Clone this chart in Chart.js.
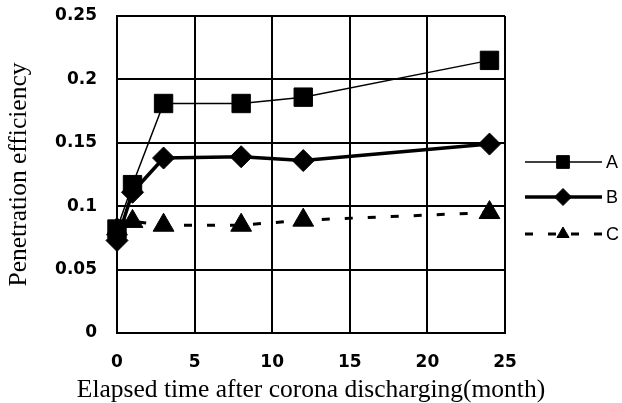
<!DOCTYPE html>
<html>
<head>
<meta charset="utf-8">
<script src="https://cdn.jsdelivr.net/npm/chart.js@4/dist/chart.umd.min.js"></script>
<style>
  html, body { margin: 0; padding: 0; background: #fff; }
  canvas { display: block; }
</style>
</head>
<body>
<canvas id="chart" width="622" height="403"></canvas>
<script>
// data
const months = [0, 1, 3, 8, 12, 24];
const seriesA = [0.082, 0.117, 0.181, 0.181, 0.186, 0.215];
const seriesB = [0.073, 0.111, 0.138, 0.139, 0.136, 0.149];
const seriesC = [0.082, 0.088, 0.085, 0.085, 0.089, 0.095];
const seriesNames = ["A", "B", "C"];
const xTickLabels = ["0", "5", "10", "15", "20", "25"];
const yTickLabels = ["0", "0.05", "0.1", "0.15", "0.2", "0.25"];
const xTitle = "Elapsed time after corona discharging(month)";
const yTitle = "Penetration efficiency";

const toPoints = (values) => values.map((v, i) => ({ x: months[i], y: v }));

const titleFont = { family: "'Liberation Serif', 'Times New Roman', serif", size: 25.5 };
const tickFont = { family: "'DejaVu Sans', sans-serif", size: 17, weight: "bold" };

// legend on the right (line sample + marker + name) and the x title,
// which chart.js would squeeze to the axis width
const legendRows = [162, 197, 234];
const legendMarkerRadius = [9, 8.5, 7];

const extraText = {
  id: "extraText",
  afterDraw(chart) {
    const ctx = chart.ctx;
    const area = chart.chartArea;
    chart.data.datasets.forEach((ds, i) => {
      const y = legendRows[i];
      ctx.save();
      ctx.strokeStyle = "#000";
      ctx.fillStyle = "#000";
      ctx.lineWidth = ds.borderWidth;
      ctx.setLineDash(ds.borderDash || []);
      ctx.beginPath();
      ctx.moveTo(525, y);
      ctx.lineTo(602, y);
      ctx.stroke();
      ctx.setLineDash([]);
      ctx.lineWidth = 1;
      Chart.helpers.drawPoint(
        ctx,
        { pointStyle: ds.pointStyle, radius: legendMarkerRadius[i], borderWidth: 1, rotation: 0 },
        563,
        y,
      );
      ctx.font = "18px 'Liberation Sans', Arial, sans-serif";
      ctx.textBaseline = "middle";
      ctx.textAlign = "left";
      ctx.fillText(ds.label, 606, y + 1);
      ctx.restore();
    });

    ctx.save();
    ctx.fillStyle = "#000";
    ctx.font = `${titleFont.size}px ${titleFont.family}`;
    ctx.textAlign = "center";
    ctx.textBaseline = "alphabetic";
    ctx.fillText(xTitle, (area.left + area.right) / 2, 397);
    ctx.restore();
  },
};

new Chart(document.getElementById("chart"), {
  type: "line",
  data: {
    datasets: [
      {
        label: seriesNames[0],
        data: toPoints(seriesA),
        borderColor: "#000",
        backgroundColor: "#000",
        borderWidth: 1.5,
        pointStyle: "rect",
        pointRadius: 13,
        pointBorderWidth: 1,
        clip: false,
      },
      {
        label: seriesNames[1],
        data: toPoints(seriesB),
        borderColor: "#000",
        backgroundColor: "#000",
        borderWidth: 3.5,
        pointStyle: "rectRot",
        pointRadius: 11,
        pointBorderWidth: 1,
        clip: false,
      },
      {
        label: seriesNames[2],
        data: toPoints(seriesC),
        borderColor: "#000",
        backgroundColor: "#000",
        borderWidth: 3,
        borderDash: [8, 15],
        pointStyle: "triangle",
        pointRadius: 12,
        pointBorderWidth: 1,
        clip: false,
      },
    ],
  },
  options: {
    responsive: false,
    animation: false,
    layout: { padding: { left: 0, right: 117, top: 16, bottom: 0 } },
    plugins: {
      legend: { display: false },
      tooltip: { enabled: false },
    },
    elements: { line: { tension: 0 } },
    scales: {
      x: {
        type: "linear",
        min: 0,
        max: 25,
        afterFit: (scale) => {
          scale.height = 70;
          scale.paddingLeft = 0;
          scale.paddingRight = 0;
        },
        afterBuildTicks: (scale) => {
          scale.ticks = xTickLabels.map((t) => ({ value: Number(t) }));
        },
        ticks: {
          color: "#000",
          font: tickFont,
          padding: 19,
          callback: (v, i) => xTickLabels[i],
        },
        grid: { color: "#000", lineWidth: 2, drawTicks: false },
        border: { color: "#000", width: 2 },
        title: { display: false },
      },
      y: {
        type: "linear",
        min: 0,
        max: 0.25,
        afterFit: (scale) => {
          scale.width = 117;
          scale.paddingTop = 0;
          scale.paddingBottom = 0;
        },
        afterBuildTicks: (scale) => {
          scale.ticks = yTickLabels.map((t) => ({ value: Number(t) }));
        },
        ticks: {
          color: "#000",
          font: tickFont,
          padding: 20,
          callback: (v, i) => yTickLabels[i],
        },
        grid: { color: "#000", lineWidth: 2, drawTicks: false },
        border: { color: "#000", width: 2 },
        title: {
          display: true,
          text: yTitle,
          color: "#000",
          font: titleFont,
          padding: { top: 4, bottom: 0 },
        },
      },
    },
  },
  plugins: [extraText],
});
</script>
</body>
</html>
